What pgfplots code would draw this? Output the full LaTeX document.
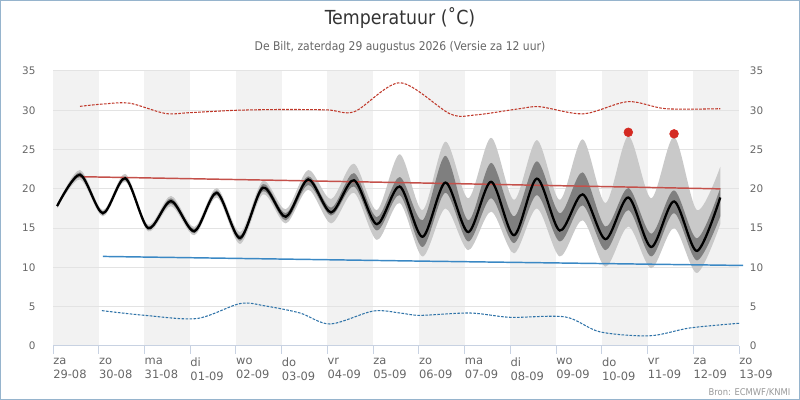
\documentclass[border=0pt]{standalone}
\usepackage{fontspec}
\setmainfont{DejaVu Sans}
\newfontfamily\condfont{DejaVu Sans Condensed}
\usepackage{pgfplots}
\usepackage{pgfplotstable}
\usepgfplotslibrary{fillbetween}
\pgfplotsset{compat=1.18}
\definecolor{bandc}{HTML}{F2F2F2}
\definecolor{gridc}{HTML}{E3E3E3}
\definecolor{axisc}{HTML}{C8D2E2}
\definecolor{lightb}{HTML}{C9C9C9}
\definecolor{darkb}{HTML}{7F7F7F}
\definecolor{normred}{HTML}{C4504A}
\definecolor{normblue}{HTML}{3A88C4}
\definecolor{recred}{HTML}{C0392B}
\definecolor{recblue}{HTML}{2F73A8}
\definecolor{dotred}{HTML}{D42A22}
\definecolor{labc}{HTML}{666666}
\definecolor{titc}{HTML}{333333}
\definecolor{framec}{RGB}{150,180,205}

\pgfplotstableread{
d bl ll dl dh lh
0.09 17.8 17.55 17.65 17.95 18.05
0.59 21.8 21.2 21.5 22.1 22.4
1.09 16.9 16.5 16.7 17.1 17.3
1.58 21.35 20.9 21.1 21.6 21.9
2.08 15.0 14.6 14.8 15.25 15.45
2.58 18.45 17.8 18.1 18.8 19.1
3.09 14.6 14.1 14.35 14.9 15.15
3.58 19.5 18.9 19.2 19.8 20.1
4.09 13.75 13.0 13.4 14.1 14.5
4.59 20.15 19.3 19.7 20.6 21.0
5.09 16.45 15.6 16.0 16.9 17.4
5.58 21.2 19.9 20.5 21.6 22.4
6.08 17.0 15.6 16.6 17.6 18.7
6.58 21.1 19.5 20.3 22.0 23.2
7.08 15.5 13.5 14.7 16.4 17.3
7.58 20.3 18.2 19.2 21.5 24.4
8.08 13.9 11.4 12.6 16.0 17.3
8.58 20.8 17.5 19.5 24.2 26.0
9.08 14.5 12.2 13.3 16.0 18.8
9.58 20.9 17.1 18.8 23.3 26.5
10.08 14.1 11.8 13.1 16.5 18.6
10.58 21.3 17.5 19.2 23.5 26.2
11.08 14.7 11.4 13.3 16.9 18.6
11.58 19.3 16.0 17.9 22.1 26.3
12.08 13.6 10.1 12.2 15.2 18.2
12.58 18.9 15.2 17.3 20.1 26.7
13.08 12.6 9.9 11.4 14.3 18.8
13.58 18.4 15.0 16.9 19.8 26.6
14.08 12.1 9.3 10.9 13.7 17.3
14.59 18.9 15.5 16.5 20.1 22.8
}\temps

\pgfplotstableread{
d v
0.59 30.5
1.1 30.8
1.68 30.9
2.45 29.6
3.0 29.7
4.0 30.0
5.0 30.1
6.0 30.05
6.6 29.85
7.59 33.5
8.68 29.55
9.23 29.4
10.2 30.2
10.65 30.45
11.6 29.55
12.57 31.1
13.4 30.2
14.59 30.2
}\recmax

\pgfplotstableread{
d v
1.07 4.5
2.01 3.9
3.15 3.5
4.09 5.4
4.64 5.1
5.4 4.2
6.06 2.8
7.0 4.45
7.59 4.2
8.03 3.9
9.12 4.2
10.0 3.65
11.2 3.7
11.96 1.8
13.05 1.3
13.93 2.3
15.02 2.9
}\recmin

\begin{document}
\begin{tikzpicture}
\draw[draw=framec, line width=0.75bp] (0.375bp,0.375bp) rectangle (599.625bp,299.625bp);
\node[text=titc] at (300bp,286.5bp) {\condfont\fontsize{14.5bp}{17bp}\selectfont Temperatuur (˚C)};
\node[text=labc] at (300bp,264.75bp) {\condfont\fontsize{9bp}{11bp}\selectfont De Bilt, zaterdag 29 augustus 2026 (Versie za 12 uur)};
\node[text=gray!80, anchor=east, inner sep=0pt] at (593bp,6bp) {\condfont\fontsize{7bp}{8bp}\selectfont Bron: ECMWF/KNMI};

\begin{axis}[
  at={(39.75bp,40.5bp)}, anchor=south west,
  scale only axis, width=514.5bp, height=206.25bp,
  xmin=0, xmax=15, ymin=0, ymax=35,
  clip=false,
  set layers,
  /pgf/number format/assume math mode=true,
  axis x line*=bottom, axis y line*=left,
  axis line style={-},
  x axis line style={draw=axisc, line width=0.75bp},
  y axis line style={draw=none},
  xtick={0,...,15},
  xticklabels={{za\\29-08},{zo\\30-08},{ma\\31-08},{di\\01-09},{wo\\02-09},{do\\03-09},{vr\\04-09},{za\\05-09},{zo\\06-09},{ma\\07-09},{di\\08-09},{wo\\09-09},{do\\10-09},{vr\\11-09},{za\\12-09},{zo\\13-09}},
  xticklabel style={anchor=north west, align=left, inner sep=0pt, text=labc, font=\fontsize{8.6bp}{10.5bp}\selectfont, yshift=-3bp},
  tick align=outside,
  major tick length=6bp,
  xtick style={draw=axisc, line width=0.75bp},
  ytick={0,5,...,35},
  ytick style={draw=none},
  yticklabel style={anchor=east, inner sep=0pt, text=labc, font=\fontsize{7.8bp}{9bp}\selectfont, xshift=-7bp},
  ymajorgrids=true,
  major grid style={draw=gridc, line width=0.75bp},
]
\addplot[on layer=axis background, fill=bandc, draw=none] coordinates {(0,0) (0,35) (1,35) (1,0)} -- cycle;
\addplot[on layer=axis background, fill=bandc, draw=none] coordinates {(2,0) (2,35) (3,35) (3,0)} -- cycle;
\addplot[on layer=axis background, fill=bandc, draw=none] coordinates {(4,0) (4,35) (5,35) (5,0)} -- cycle;
\addplot[on layer=axis background, fill=bandc, draw=none] coordinates {(6,0) (6,35) (7,35) (7,0)} -- cycle;
\addplot[on layer=axis background, fill=bandc, draw=none] coordinates {(8,0) (8,35) (9,35) (9,0)} -- cycle;
\addplot[on layer=axis background, fill=bandc, draw=none] coordinates {(10,0) (10,35) (11,35) (11,0)} -- cycle;
\addplot[on layer=axis background, fill=bandc, draw=none] coordinates {(12,0) (12,35) (13,35) (13,0)} -- cycle;
\addplot[on layer=axis background, fill=bandc, draw=none] coordinates {(14,0) (14,35) (15,35) (15,0)} -- cycle;
\addplot[name path=lh, draw=none, smooth] table[x=d, y=lh] {\temps};
\addplot[name path=ll, draw=none, smooth] table[x=d, y=ll] {\temps};
\addplot[name path=dh, draw=none, smooth] table[x=d, y=dh] {\temps};
\addplot[name path=dl, draw=none, smooth] table[x=d, y=dl] {\temps};
\addplot[fill=lightb, draw=none] fill between[of=lh and ll];
\addplot[fill=darkb, draw=none] fill between[of=dh and dl];
\addplot[recred, line width=0.8bp, dash pattern=on 2bp off 1bp, smooth] table[x=d, y=v] {\recmax};
\addplot[recblue, line width=0.8bp, dash pattern=on 2bp off 1bp, smooth] table[x=d, y=v] {\recmin};
\addplot[normred, line width=1.1bp] coordinates {(0.59,21.55) (7.59,20.8) (14.59,20.0)};
\addplot[normblue, line width=1.1bp] coordinates {(1.09,11.4) (8.09,10.8) (15.09,10.25)};
\addplot[black, line width=1.7bp, smooth] table[x=d, y=bl] {\temps};
\addplot[only marks, mark=*, mark size=3.3bp, color=dotred] coordinates {(12.58,27.2) (13.58,27.0)};
\end{axis}

\begin{axis}[
  at={(39.75bp,40.5bp)}, anchor=south west,
  scale only axis, width=514.5bp, height=206.25bp,
  xmin=0, xmax=15, ymin=0, ymax=35,
  /pgf/number format/assume math mode=true,
  axis x line*=bottom, axis y line*=right,
  axis line style={draw=none},
  xtick=\empty,
  ytick={0,5,...,35},
  ytick style={draw=none},
  yticklabel style={anchor=west, inner sep=0pt, text=labc, font=\fontsize{7.8bp}{9bp}\selectfont, xshift=8bp},
]
\addplot[draw=none] coordinates {(0,0) (15,35)};
\end{axis}
\end{tikzpicture}
\end{document}
